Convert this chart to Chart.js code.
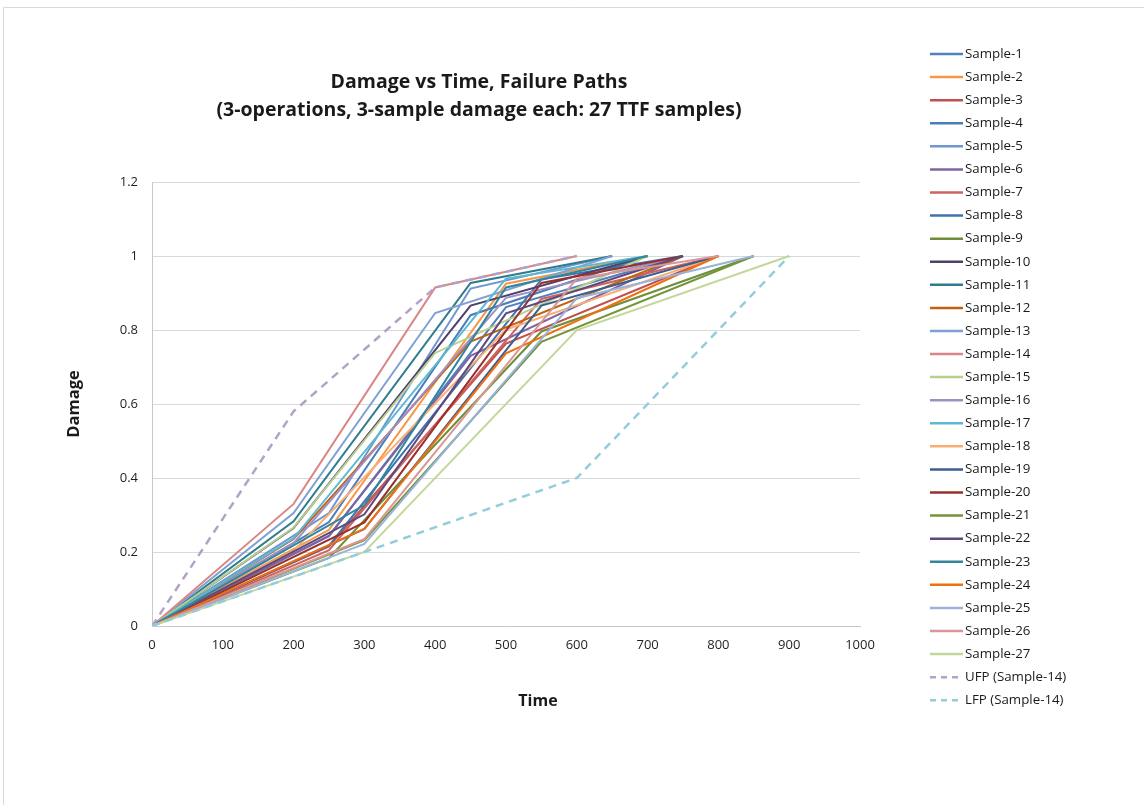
<!DOCTYPE html>
<html>
<head>
<meta charset="utf-8">
<script src="https://cdn.jsdelivr.net/npm/chart.js@4.4.1/dist/chart.umd.min.js"></script>
<style>
  html, body { margin: 0; padding: 0; background: #fff; }
  #wrap { width: 1144px; height: 805px; position: relative; }
</style>
</head>
<body>
<div id="wrap"><canvas id="chart" width="1144" height="805"></canvas></div>
<script>
// Failure paths: each sample is (0,0) -> op1 end -> op2 end -> failure (damage 1)
const sampleNames = [];
for (let i = 1; i <= 27; i++) sampleNames.push('Sample-' + i);

const sampleTimes = [
  [0, 250, 500, 750], [0, 250, 500, 700], [0, 250, 500, 800],
  [0, 250, 450, 700], [0, 250, 450, 650], [0, 250, 450, 750],
  [0, 250, 550, 800], [0, 250, 550, 750], [0, 250, 550, 850],
  [0, 200, 450, 700], [0, 200, 450, 650], [0, 200, 450, 750],
  [0, 200, 400, 650], [0, 200, 400, 600], [0, 200, 400, 700],
  [0, 200, 500, 750], [0, 200, 500, 700], [0, 200, 500, 800],
  [0, 300, 550, 800], [0, 300, 550, 750], [0, 300, 550, 850],
  [0, 300, 500, 750], [0, 300, 500, 700], [0, 300, 500, 800],
  [0, 300, 600, 850], [0, 300, 600, 800], [0, 300, 600, 900]
];

const sampleDamage = [
  [0, 0.243, 0.862, 1], [0, 0.260, 0.925, 1], [0, 0.215, 0.763, 1],
  [0, 0.281, 0.840, 1], [0, 0.305, 0.912, 1], [0, 0.244, 0.730, 1],
  [0, 0.205, 0.884, 1], [0, 0.217, 0.937, 1], [0, 0.184, 0.796, 1],
  [0, 0.265, 0.866, 1], [0, 0.283, 0.927, 1], [0, 0.235, 0.769, 1],
  [0, 0.305, 0.846, 1], [0, 0.330, 0.915, 1], [0, 0.266, 0.738, 1],
  [0, 0.224, 0.887, 1], [0, 0.237, 0.939, 1], [0, 0.203, 0.801, 1],
  [0, 0.262, 0.866, 1], [0, 0.280, 0.927, 1], [0, 0.232, 0.768, 1],
  [0, 0.302, 0.845, 1], [0, 0.327, 0.915, 1], [0, 0.263, 0.737, 1],
  [0, 0.222, 0.886, 1], [0, 0.235, 0.939, 1], [0, 0.200, 0.800, 1]
];

const ufpTimes = [0, 200, 400, 600];
const ufpDamage = [0, 0.58, 0.915, 1];
const lfpTimes = [0, 300, 600, 900];
const lfpDamage = [0, 0.2, 0.4, 1];

const xTicks = [0, 100, 200, 300, 400, 500, 600, 700, 800, 900, 1000];
const yTicks = [0, 0.2, 0.4, 0.6, 0.8, 1, 1.2];

const sampleColors = [
  '#4F81BD', '#F79646', '#C0504D', '#4A7DBA', '#6F96CF', '#8064A2',
  '#CD6360', '#3F72AF', '#6E8F3A', '#4F3F6B', '#2E7C8E', '#C2620E',
  '#7EA1D4', '#DA8684', '#B8D08E', '#A18FC4', '#5CB9D1', '#F9AE73',
  '#3B5E8E', '#9A302D', '#76943A', '#5F497A', '#31869C', '#F26F10',
  '#98B4DA', '#D99795', '#C4D79B'
];

const FONT = '"Open Sans", Lato, sans-serif';

function toPoints(times, damage) {
  return times.map((t, j) => ({ x: t, y: damage[j] }));
}

const datasets = sampleNames.map((name, i) => ({
  label: name,
  data: toPoints(sampleTimes[i], sampleDamage[i]),
  borderColor: sampleColors[i],
  borderWidth: 2,
  borderDash: []
}));
datasets.push({
  label: 'UFP (Sample-14)',
  data: toPoints(ufpTimes, ufpDamage),
  borderColor: '#B3A2C7',
  borderWidth: 2.5,
  borderDash: [8, 6]
});
datasets.push({
  label: 'LFP (Sample-14)',
  data: toPoints(lfpTimes, lfpDamage),
  borderColor: '#93CDDD',
  borderWidth: 2.5,
  borderDash: [8, 6]
});
// later series on top, like the spreadsheet
datasets.forEach((d, i) => { d.order = datasets.length - i; });

const decorPlugin = {
  id: 'decor',
  beforeDraw(chart) {
    const ctx = chart.ctx;
    ctx.save();
    ctx.fillStyle = '#fff';
    ctx.fillRect(0, 0, chart.width, chart.height);
    ctx.strokeStyle = '#D9D9D9';
    ctx.lineWidth = 1;
    ctx.beginPath();
    ctx.moveTo(3.5, chart.height);
    ctx.lineTo(3.5, 7.5);
    ctx.lineTo(chart.width, 7.5);
    ctx.stroke();
    ctx.restore();
  },
  afterDraw(chart) {
    const ctx = chart.ctx;
    const area = chart.chartArea;
    ctx.save();
    ctx.fillStyle = '#1a1a1a';
    ctx.textAlign = 'center';
    ctx.textBaseline = 'alphabetic';
    ctx.font = 'bold 19.5px ' + FONT;
    ctx.fillText('Damage vs Time, Failure Paths', 479, 88);
    ctx.fillText('(3-operations, 3-sample damage each: 27 TTF samples)', 479, 116);

    ctx.textBaseline = 'middle';
    ctx.font = 'bold 16px ' + FONT;
    ctx.fillText('Time', 538, 701);
    ctx.save();
    ctx.translate(74, (area.top + area.bottom) / 2);
    ctx.rotate(-Math.PI / 2);
    ctx.font = 'bold 16.5px ' + FONT;
    ctx.fillText('Damage', 0, 0);
    ctx.restore();

    // legend
    const lx = area.right + 70;
    ctx.textAlign = 'left';
    ctx.font = '13.3px ' + FONT;
    chart.data.datasets.forEach((d, i) => {
      const y = 54 + i * 23.08;
      ctx.save();
      ctx.strokeStyle = d.borderColor;
      ctx.lineWidth = 2.5;
      ctx.setLineDash(d.borderDash.length ? [6, 5] : []);
      ctx.beginPath();
      ctx.moveTo(lx, y);
      ctx.lineTo(lx + 33, y);
      ctx.stroke();
      ctx.restore();
      ctx.fillStyle = '#1a1a1a';
      ctx.fillText(d.label, lx + 35, y);
    });
    ctx.restore();
  }
};

new Chart(document.getElementById('chart'), {
  type: 'scatter',
  data: { datasets: datasets },
  options: {
    responsive: false,
    animation: false,
    showLine: true,
    layout: { padding: { top: 182, right: 284, bottom: 0, left: 0 } },
    elements: {
      point: { radius: 0, hoverRadius: 0 },
      line: { tension: 0, fill: false }
    },
    plugins: {
      legend: { display: false },
      title: { display: false },
      tooltip: { enabled: false }
    },
    scales: {
      x: {
        type: 'linear',
        min: xTicks[0],
        max: xTicks[xTicks.length - 1],
        afterFit: s => { s.height = 179; },
        afterBuildTicks: s => { s.ticks = xTicks.map(v => ({ value: v })); },
        grid: { display: false, drawTicks: false },
        border: { display: true, color: '#C8C8C8', width: 1 },
        ticks: {
          padding: 11, color: '#1f1f1f', maxRotation: 0,
          font: { family: FONT, size: 13 },
          callback: v => String(v)
        }
      },
      y: {
        type: 'linear',
        min: yTicks[0],
        max: yTicks[yTicks.length - 1],
        afterFit: s => { s.width = 152; },
        afterBuildTicks: s => { s.ticks = yTicks.map(v => ({ value: v })); },
        grid: { color: '#D9D9D9', lineWidth: 1, drawTicks: false },
        border: { display: true, color: '#C8C8C8', width: 1 },
        ticks: {
          padding: 14, color: '#1f1f1f',
          font: { family: FONT, size: 13 },
          callback: v => String(Math.round(v * 10) / 10)
        }
      }
    }
  },
  plugins: [decorPlugin]
});
</script>
</body>
</html>
